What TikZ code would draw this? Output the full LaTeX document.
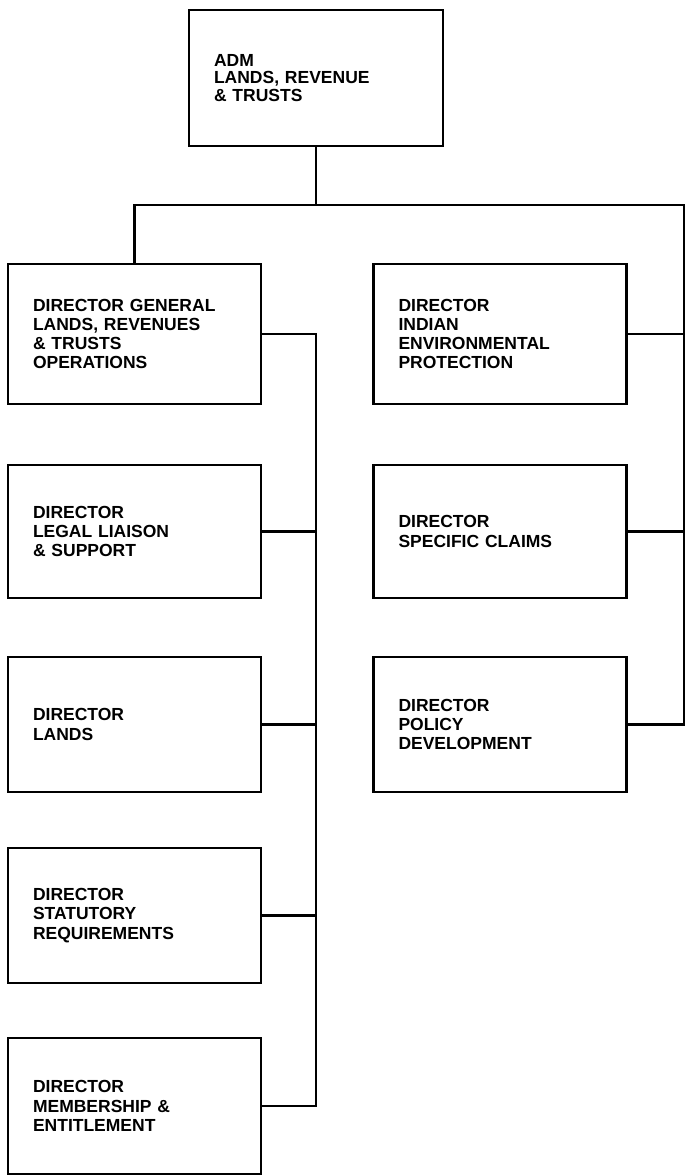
\documentclass[tikz,border=0pt]{standalone}
\usepackage{fontspec}
\setmainfont{Liberation Sans}
\begin{document}
\begin{tikzpicture}[x=1pt,y=-1pt,line width=2.4pt,
  unitbox/.style={draw,rectangle,minimum width=253pt,minimum height=136pt,
    text width=203pt,inner xsep=25pt,inner ysep=0pt,align=left,
    font=\bfseries\fontsize{17.5}{19.3}\selectfont},
  headbox/.style={unitbox,minimum width=254pt,text width=204pt,
    font=\bfseries\fontsize{17.5}{17.5}\selectfont},
  link/.style={line width=2.4pt}]
\useasboundingbox (0,0) rectangle (686,1176);

% head of the branch
\node[headbox] (adm) at (316,78) {ADM\\LANDS, REVENUE\\\& TRUSTS};

% left column
\node[unitbox,minimum height=140pt] (dg)   at (134.5,334)   {DIRECTOR GENERAL\\LANDS, REVENUES\\\& TRUSTS\\OPERATIONS};
\node[unitbox,minimum height=133pt] (legal) at (134.5,531.5) {DIRECTOR\\LEGAL LIAISON\\\& SUPPORT};
\node[unitbox,minimum height=135pt] (lands) at (134.5,724.5) {DIRECTOR\\LANDS};
\node[unitbox,minimum height=135pt] (stat)  at (134.5,915.5) {DIRECTOR\\STATUTORY\\REQUIREMENTS};
\node[unitbox,minimum height=136pt] (memb)  at (134.5,1106)  {DIRECTOR\\MEMBERSHIP \&\\ENTITLEMENT};

% right column
\node[unitbox,minimum height=140pt] (env)    at (500,334)   {DIRECTOR\\INDIAN\\ENVIRONMENTAL\\PROTECTION};
\node[unitbox,minimum height=133pt] (claims) at (500,531.5) {DIRECTOR\\SPECIFIC CLAIMS};
\node[unitbox,minimum height=135pt] (policy) at (500,724.5) {DIRECTOR\\POLICY\\DEVELOPMENT};

% bus and trunks
\coordinate (busl) at (dg.north |- 0,205);
\coordinate (busr) at (684,205);
\coordinate (bustop) at (adm.south |- 0,205);
\coordinate (ltrunk) at (316,0);

\draw[link] (adm.south) -- (bustop);
\draw[link] (dg.north) -- (busl) -- (busr) |- (policy.east);
\draw[link] (env.east) -- (env.east -| busr);
\draw[link] (claims.east) -- (claims.east -| busr);

\draw[link] (dg.east) -- (dg.east -| ltrunk) |- (memb.east);
\draw[link] (legal.east) -- (legal.east -| ltrunk);
\draw[link] (lands.east) -- (lands.east -| ltrunk);
\draw[link] (stat.east) -- (stat.east -| ltrunk);
\end{tikzpicture}
\end{document}
